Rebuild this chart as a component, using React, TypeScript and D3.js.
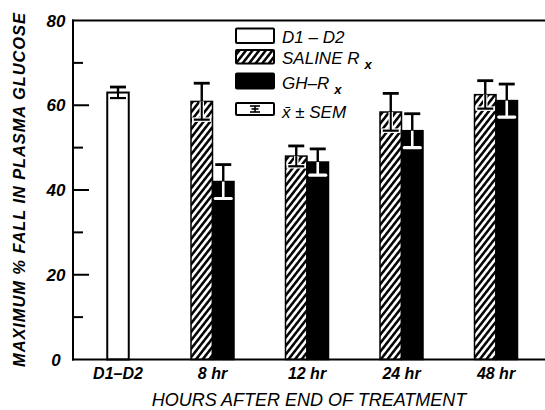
import React from "react";
import * as d3 from "d3";

const categories = ["D1–D2", "8 hr", "12 hr", "24 hr", "48 hr"];
const controlMean = [63.0, null, null, null, null];
const controlSem = [1.3, null, null, null, null];
const salineMean = [null, 60.9, 48.0, 58.4, 62.5];
const salineSem = [null, 4.3, 2.4, 4.4, 3.3];
const ghMean = [null, 42.0, 46.6, 54.0, 61.1];
const ghSem = [null, 4.0, 3.1, 4.0, 3.9];
const majorTicks = [0, 20, 40, 60, 80];
const minorTicks = [10, 30, 50, 70];
const legendLabels = ["D1 – D2", "SALINE R", "GH–R", "x̄ ± SEM"];

const W = 545;
const H = 410;
const AX_L = 73;
const AX_B = 359.5;
const AX_T = 20.5;
const BAR_W = 21.5;
const CAP = 16;

export default function App() {
  const y = d3.scaleLinear().domain([0, 80]).range([AX_B, AX_T]);
  const x = d3.scalePoint<string>().domain(categories).range([118, 496]);
  const font = "'Liberation Sans', Arial, Helvetica, sans-serif";

  type Bar = { key: string; x0: number; mean: number; sem: number; kind: "ctrl" | "sal" | "gh" };
  const bars: Bar[] = [];
  categories.forEach((c, i) => {
    const cx = x(c)!;
    if (controlMean[i] != null) {
      bars.push({ key: c + "c", x0: cx - BAR_W / 2, mean: controlMean[i]!, sem: controlSem[i]!, kind: "ctrl" });
    }
    if (salineMean[i] != null) {
      bars.push({ key: c + "s", x0: cx - BAR_W, mean: salineMean[i]!, sem: salineSem[i]!, kind: "sal" });
    }
    if (ghMean[i] != null) {
      bars.push({ key: c + "g", x0: cx, mean: ghMean[i]!, sem: ghSem[i]!, kind: "gh" });
    }
  });

  const legendY = [28.5, 50, 73.5, 103];
  const legendH = [14.5, 13.5, 15, 12];
  const legendBase = [43, 64, 89, 118];

  return (
    <svg
      width={W}
      height={H}
      viewBox={`0 0 ${W} ${H}`}
      style={{ position: "absolute", left: 0, top: 0, background: "#fff" }}
    >
      <defs>
        <pattern id="hatch" patternUnits="userSpaceOnUse" width={5.2} height={5.2} patternTransform="rotate(38)">
          <rect width={5.2} height={5.2} fill="#fff" />
          <line x1={1.3} y1={0} x2={1.3} y2={5.2} stroke="#000" strokeWidth={2.5} />
        </pattern>
      </defs>
      <rect width={W} height={H} fill="#fff" />

      {/* bars */}
      {bars.map((b) => {
        const top = y(b.mean);
        const fill = b.kind === "ctrl" ? "#fff" : b.kind === "sal" ? "url(#hatch)" : "#000";
        return (
          <rect
            key={b.key}
            x={b.x0}
            y={top}
            width={BAR_W}
            height={AX_B - top}
            fill={fill}
            stroke="#000"
            strokeWidth={b.kind === "ctrl" ? 2 : 1.5}
          />
        );
      })}

      {/* error bars */}
      {bars.map((b) => {
        const cx = b.x0 + BAR_W / 2;
        const top = y(b.mean);
        const hi = y(b.mean + b.sem);
        const lo = y(b.mean - b.sem);
        const inner = b.kind === "gh" ? "#fff" : "#000";
        return (
          <g key={b.key + "e"}>
            <line x1={cx} x2={cx} y1={hi} y2={top} stroke="#000" strokeWidth={2.4} />
            <line x1={cx - CAP / 2} x2={cx + CAP / 2} y1={hi} y2={hi} stroke="#000" strokeWidth={2.8} />
            {b.kind === "sal" && (
              <g>
                <line x1={cx} x2={cx} y1={top} y2={lo} stroke="#fff" strokeWidth={4.5} />
                <line x1={b.x0 + 1} x2={b.x0 + BAR_W - 1} y1={lo} y2={lo} stroke="#fff" strokeWidth={4.5} />
              </g>
            )}
            <line x1={cx} x2={cx} y1={top} y2={lo} stroke={inner} strokeWidth={b.kind === "gh" ? 2.6 : 2} />
            <line
              x1={cx - CAP / 2}
              x2={cx + CAP / 2}
              y1={lo}
              y2={lo}
              stroke={inner}
              strokeWidth={b.kind === "gh" ? 3.2 : 2.2}
              strokeLinecap={b.kind === "gh" ? "round" : "butt"}
            />
          </g>
        );
      })}

      {/* axes frame */}
      <line x1={AX_L} x2={AX_L} y1={AX_T - 1} y2={AX_B + 1} stroke="#000" strokeWidth={2} />
      <line x1={AX_L - 1} x2={W} y1={AX_T} y2={AX_T} stroke="#000" strokeWidth={2} />
      <line x1={AX_L - 1} x2={W} y1={AX_B} y2={AX_B} stroke="#000" strokeWidth={2} />

      {/* ticks */}
      {majorTicks.map((t) => (
        <g key={"M" + t}>
          {t !== 0 && t !== 80 && (
            <line x1={AX_L} x2={AX_L + 16} y1={y(t)} y2={y(t)} stroke="#000" strokeWidth={2} />
          )}
          <text
            x={56}
            y={y(t) + 6}
            textAnchor="middle"
            fontFamily={font}
            fontWeight="bold"
            fontStyle="italic"
            fontSize={17}
          >
            {t}
          </text>
        </g>
      ))}
      {minorTicks.map((t) => (
        <line key={"m" + t} x1={AX_L} x2={AX_L + 10} y1={y(t)} y2={y(t)} stroke="#000" strokeWidth={2} />
      ))}

      {/* category labels */}
      {categories.map((c) => (
        <text
          key={"c" + c}
          x={x(c)!}
          y={379}
          textAnchor="middle"
          fontFamily={font}
          fontWeight="bold"
          fontStyle="italic"
          fontSize={16}
        >
          {c}
        </text>
      ))}

      {/* axis titles */}
      <text
        x={309}
        y={406}
        textAnchor="middle"
        fontFamily={font}
        fontStyle="italic"
        fontSize={18}
      >
        HOURS AFTER END OF TREATMENT
      </text>
      <text
        transform={`translate(25,190) rotate(-90)`}
        textAnchor="middle"
        fontFamily={font}
        fontWeight="bold"
        fontStyle="italic"
        fontSize={16.5}
        textLength={354}
      >
        MAXIMUM % FALL IN PLASMA GLUCOSE
      </text>

      {/* legend */}
      {legendLabels.map((l, i) => {
        const fill = i === 0 ? "#fff" : i === 1 ? "url(#hatch)" : i === 2 ? "#000" : "#fff";
        const bx = 236;
        const bw = 38;
        const by = legendY[i];
        const bh = legendH[i];
        const mx = bx + bw / 2;
        return (
          <g key={"L" + i}>
            <rect x={bx} y={by} width={bw} height={bh} fill={fill} stroke="#000" strokeWidth={2} rx={1} />
            {i === 3 && (
              <g stroke="#000" strokeWidth={1.6}>
                <line x1={mx - 5} x2={mx + 5} y1={by + 3} y2={by + 3} />
                <line x1={mx} x2={mx} y1={by + 3} y2={by + bh - 3} />
                <line x1={mx - 5} x2={mx + 5} y1={by + bh - 3} y2={by + bh - 3} />
                <line x1={mx - 3.5} x2={mx + 3.5} y1={by + bh / 2} y2={by + bh / 2} />
              </g>
            )}
            <text x={282} y={legendBase[i]} fontFamily={font} fontStyle="italic" fontSize={17}>
              {l}
              {(i === 1 || i === 2) && (
                <tspan dx={5} dy={5} fontSize={13} fontWeight="bold">
                  x
                </tspan>
              )}
            </text>
          </g>
        );
      })}
    </svg>
  );
}
